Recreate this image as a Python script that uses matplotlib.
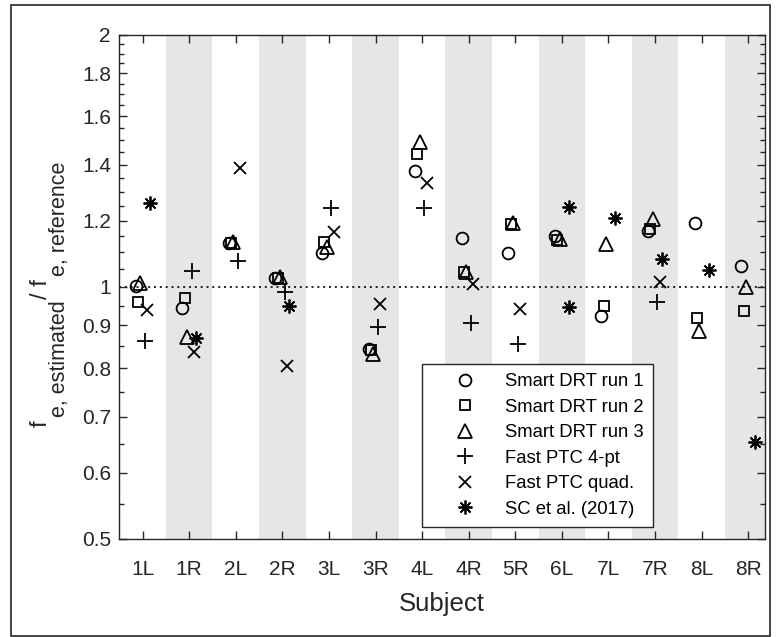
import numpy as np
import matplotlib
matplotlib.use("Agg")
import matplotlib.pyplot as plt
from matplotlib.patches import Rectangle
from matplotlib.ticker import FixedLocator, NullFormatter
from matplotlib.transforms import IdentityTransform

plt.rcParams["font.family"] = ["Liberation Sans", "DejaVu Sans"]

nan = np.nan

# -- data ------------------------------------------------------------------
subjects = ["1L", "1R", "2L", "2R", "3L", "3R", "4L", "4R", "5R", "6L", "7L", "7R", "8L", "8R"]
drt_run1 = [1.003, 0.944, 1.129, 1.025, 1.098, 0.843, 1.376, 1.144, 1.098, 1.151, 0.923, 1.166, 1.192, 1.059]
drt_run2 = [0.960, 0.970, 1.130, 1.025, 1.132, 0.841, 1.442, 1.042, 1.189, 1.138, 0.949, 1.173, 0.918, 0.936]
drt_run3 = [1.011, 0.871, 1.132, 1.028, 1.116, 0.832, 1.490, 1.042, 1.192, 1.140, 1.125, 1.206, 0.886, 1.000]
ptc_4pt = [0.862, 1.045, 1.074, 0.986, 1.242, 0.896, 1.242, 0.906, 0.855, nan, nan, 0.960, nan, nan]
ptc_quad = [0.939, 0.836, 1.387, 0.805, 1.163, 0.954, 1.331, 1.008, 0.941, nan, nan, 1.014, nan, nan]
sc_subjects = ["1L", "1R", "2R", "6L", "6L", "7L", "7R", "8L", "8R"]
sc_values = [1.260, 0.869, 0.949, 1.246, 0.946, 1.209, 1.080, 1.048, 0.653]

y_major = [0.5, 0.6, 0.7, 0.8, 0.9, 1, 1.2, 1.4, 1.6, 1.8, 2]
y_labels = ["0.5", "0.6", "0.7", "0.8", "0.9", "1", "1.2", "1.4", "1.6", "1.8", "2"]

# y label pieces: (text, is_subscript)
ylabel_parts = [("f", False), ("e, estimated", True), ("/ f", False), ("e, reference", True)]

# -- figure -----------------------------------------------------------------
fig = plt.figure(figsize=(7.76, 6.37), dpi=100)
ax = fig.add_axes([119.3 / 776, 98 / 637, 645.7 / 776, 504 / 637])

x = np.arange(1, len(subjects) + 1)
for i in range(1, len(subjects), 2):
    ax.axvspan(x[i] - 0.5, x[i] + 0.5, color="#e6e6e8", lw=0, zorder=0)

ax.axhline(1, color="k", lw=1.2, ls=(0, (1.2, 2.3)), zorder=1)

pos = {s: k + 1 for k, s in enumerate(subjects)}
sc_x = np.array([pos[s] for s in sc_subjects], dtype=float)

mk = dict(linestyle="none", color="k", mfc="none", mew=1.3, zorder=3)
ax.plot(x - 0.15, drt_run1, marker="o", ms=8.5, label="Smart DRT run 1", **mk)
ax.plot(x - 0.10, drt_run2, marker="s", ms=7.5, label="Smart DRT run 2", **mk)
ax.plot(x - 0.05, drt_run3, marker="^", ms=10, label="Smart DRT run 3", **mk)
ax.plot(x + 0.05, ptc_4pt, marker="+", ms=11, label="Fast PTC 4-pt", **mk)
ax.plot(x + 0.10, ptc_quad, marker="x", ms=8, label="Fast PTC quad.", **mk)
ax.plot(sc_x + 0.15, sc_values, marker=(8, 2, 0), ms=10, label="SC et al. (2017)", **mk)

ax.set_yscale("log")
ax.set_ylim(0.5, 2)
ax.set_xlim(0.5, 14.36)
ax.yaxis.set_major_locator(FixedLocator(y_major))
ax.set_yticklabels(y_labels)
minor = [v for v in np.arange(0.5, 2.001, 0.05) if min(abs(v - m) for m in y_major) > 1e-6]
ax.yaxis.set_minor_locator(FixedLocator(minor))
ax.yaxis.set_minor_formatter(NullFormatter())
ax.set_xticks(x)
ax.set_xticklabels(subjects)

ax.tick_params(which="both", direction="in", top=True, right=True, colors="#262626",
               labelcolor="#262626", labelsize=15)
ax.tick_params(which="major", length=6, width=1)
ax.tick_params(which="minor", length=3.5, width=1)
ax.tick_params(axis="x", which="major", pad=15)
ax.tick_params(axis="y", which="major", pad=6)
ax.tick_params(axis="x", which="minor", top=False, bottom=False)
for sp in ax.spines.values():
    sp.set_color("#262626")
    sp.set_linewidth(1)

fig.text(442 / 776, 1 - 611 / 637, "Subject", fontsize=18.5, color="#262626",
         ha="center", va="baseline")

# y label built from pieces so the subscripts keep their size
fig.canvas.draw()
renderer = fig.canvas.get_renderer()
ypos = 637 - 427
for txt, sub in ylabel_parts:
    t = fig.text(65 if sub else 47, ypos, txt, transform=IdentityTransform(),
                 rotation=90, rotation_mode="anchor", ha="left", va="baseline",
                 fontsize=15.5 if sub else 17, color="#262626")
    ypos = t.get_window_extent(renderer).y1 + (2 if sub else 3)

leg = ax.legend(loc="lower left", bbox_to_anchor=(0.4688, 0.0238), fontsize=13.3,
                frameon=True, fancybox=False, edgecolor="#262626", framealpha=1,
                borderpad=0.5, handlelength=3.7, handletextpad=0.3, labelspacing=0.46,
                borderaxespad=0)
leg.get_frame().set_linewidth(1)

# outer frame around the whole figure
fig.patches.append(Rectangle((11 / 776, 1 / 637), 759 / 776, 631 / 637, fill=False,
                             lw=1.2, ec="#262626", transform=fig.transFigure))

fig.savefig("out.png", dpi=100)
